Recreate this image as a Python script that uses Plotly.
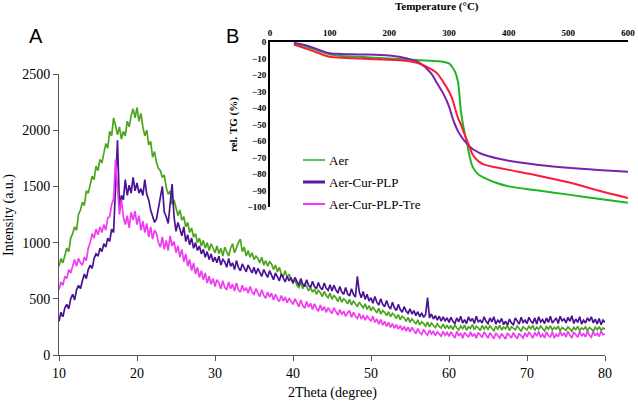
import plotly.graph_objects as go

W, H = 638, 403

# ---------------- Panel A : XRD ----------------
two_theta = [10 + 0.25 * i for i in range(281)]

aer_xrd = [
    790, 860, 820, 900, 950, 920, 1040, 1080, 1140, 1110, 1250, 1290, 1360, 1330, 1460, 1440, 1530, 1590, 1560, 1680,
    1640, 1740, 1710, 1790, 1880, 1840, 1990, 1950, 2110, 2040, 1960, 2030, 1920, 1990, 1950, 2080, 2030, 2130, 2190, 2110,
    2200, 2080, 2150, 2030, 1950, 2000, 1870, 1900, 1760, 1810, 1710, 1660, 1640, 1580, 1600, 1490, 1430, 1460, 1340, 1380,
    1300, 1240, 1290, 1200, 1230, 1140, 1180, 1090, 1130, 1050, 1080, 1000, 1040, 970, 1020, 950, 1000, 930, 990, 940,
    910, 970, 900, 950, 880, 960, 920, 880, 950, 990, 910, 960, 1000, 1030, 920, 960, 880, 930, 870, 910,
    850, 880, 860, 820, 870, 800, 840, 790, 830, 810, 760, 800, 740, 780, 720, 700, 750, 690, 720, 670,
    640, 670, 620, 600, 650, 590, 630, 610, 570, 600, 560, 585, 540, 575, 555, 520, 565, 530, 510, 550,
    495, 530, 510, 475, 520, 470, 500, 485, 455, 495, 445, 480, 460, 430, 470, 440, 420, 455, 405, 440,
    395, 425, 405, 375, 415, 365, 395, 380, 350, 385, 340, 370, 355, 325, 360, 315, 345, 330, 300, 335,
    290, 320, 300, 275, 312, 268, 295, 280, 256, 292, 250, 284, 262, 244, 278, 252, 240, 274, 236, 266,
    232, 262, 226, 268, 240, 222, 258, 234, 266, 220, 250, 236, 270, 226, 255, 242, 218, 262, 232, 256,
    228, 260, 238, 215, 256, 230, 264, 222, 248, 234, 262, 218, 252, 240, 225, 258, 230, 212, 250, 236,
    222, 256, 234, 262, 218, 248, 228, 258, 236, 214, 252, 230, 260, 222, 246, 232, 256, 216, 244, 230,
    220, 250, 232, 212, 246, 226, 254, 218, 240, 228, 250, 214, 244, 232, 210, 248, 224, 252, 218, 240,
    228,
]

aer_cur_plp_xrd = [
    300, 380, 340, 420, 450, 410, 500, 540, 490, 580, 620, 590, 660, 720, 680, 760, 800, 770, 860, 900,
    880, 950, 920, 990, 960, 1040, 1010, 1120, 1090, 1480, 1910, 1320, 1420, 1380, 1560, 1420, 1510, 1440, 1580, 1460,
    1530, 1440, 1480, 1420, 1560, 1430, 1380, 1290, 1230, 1180, 1210, 1300, 1380, 1500, 1270, 1230, 1170, 1380, 1520, 1230,
    1100, 1180, 1120, 1060, 1140, 1010, 1070, 980, 1040, 950, 1000, 930, 970, 900, 940, 870, 920, 850, 900, 830,
    870, 820, 880, 800, 850, 830, 780, 860, 790, 820, 760, 840, 780, 750, 810, 770, 740, 800, 760, 730,
    780, 720, 770, 740, 700, 760, 720, 690, 750, 700, 670, 730, 690, 660, 720, 680, 650, 700, 660, 690,
    640, 690, 650, 620, 680, 630, 610, 670, 620, 600, 655, 610, 590, 645, 600, 580, 640, 595, 575, 625,
    570, 620, 580, 550, 610, 560, 540, 600, 545, 525, 590, 540, 515, 700, 560, 510, 565, 495, 540, 480,
    510, 460, 520, 470, 445, 500, 450, 430, 485, 435, 410, 470, 420, 395, 450, 405, 380, 430, 390, 370,
    410, 365, 395, 350, 385, 340, 375, 335, 360, 510, 330, 365, 320, 350, 310, 345, 300, 340, 305, 330,
    290, 335, 300, 280, 330, 295, 345, 285, 315, 280, 340, 300, 325, 280, 345, 295, 310, 285, 340, 300,
    280, 330, 295, 340, 275, 310, 290, 325, 270, 300, 265, 320, 285, 270, 330, 295, 275, 335, 290, 310,
    280, 335, 300, 285, 330, 275, 340, 295, 315, 280, 330, 290, 345, 285, 310, 330, 280, 345, 300, 325,
    285, 335, 300, 350, 280, 320, 290, 340, 275, 310, 285, 330, 300, 340, 285, 320, 275, 325, 270, 310,
    290,
]

aer_cur_plp_tre_xrd = [
    580, 650, 620, 700, 680, 760, 730, 800, 850, 790, 860, 820, 800, 870, 840, 950, 1000, 1080, 1040, 1120,
    1070, 1140, 1090, 1160, 1110, 1220, 1230, 1340, 1390, 1740, 1440, 1250, 1380, 1230, 1160, 1240, 1130, 1270, 1200, 1280,
    1160, 1240, 1110, 1190, 1090, 1170, 1050, 1140, 1030, 1110, 1080, 1000, 960, 1050, 940, 1020, 930, 1060, 970, 1010,
    910, 970, 870, 940, 830, 900, 790, 850, 750, 820, 720, 780, 690, 750, 670, 730, 640, 700, 630, 680,
    610, 670, 640, 590, 660, 600, 580, 650, 590, 630, 570, 640, 580, 560, 620, 570, 600, 550, 610, 560,
    540, 590, 550, 520, 580, 530, 505, 560, 515, 550, 490, 540, 500, 475, 530, 480, 515, 465, 505, 470,
    450, 500, 460, 430, 490, 440, 415, 475, 425, 460, 405, 455, 415, 390, 445, 395, 430, 380, 420, 390,
    370, 420, 380, 355, 405, 360, 390, 345, 375, 395, 335, 380, 345, 325, 370, 320, 355, 310, 345, 320,
    300, 345, 290, 320, 275, 315, 265, 300, 255, 290, 245, 280, 238, 270, 230, 262, 220, 255, 212, 248,
    205, 245, 215, 190, 235, 200, 182, 228, 195, 176, 222, 188, 210, 172, 205, 185, 168, 210, 175, 200,
    165, 205, 180, 152, 210, 170, 195, 150, 200, 175, 158, 205, 165, 190, 150, 200, 172, 155, 205, 178,
    150, 198, 168, 145, 195, 172, 150, 190, 160, 142, 195, 170, 152, 200, 165, 148, 192, 170, 150, 198,
    160, 205, 175, 150, 200, 168, 210, 158, 185, 152, 205, 172, 160, 208, 150, 185, 162, 210, 170, 195,
    160, 210, 175, 152, 205, 180, 158, 212, 168, 190, 160, 215, 175, 158, 208, 170, 195, 165, 212, 180,
    185,
]

# ---------------- Panel B : TGA ----------------
temperature = [40, 60, 80, 100, 120, 150, 200, 230, 250, 270, 280, 290, 300, 305, 310, 315, 320, 325,
               330, 335, 340, 350, 360, 380, 400, 450, 500, 550, 600]
aer_tg = [-1, -3, -5, -7.5, -8.5, -9, -10, -10.5, -11, -11.3, -11.6, -12, -13, -15, -18, -24, -42, -53,
          -61, -70, -76, -80.5, -82.5, -85.5, -87.5, -90, -92.5, -95, -97.5]
aer_cur_plp_tg = [-0.5, -2, -4.5, -6.8, -7.2, -7.5, -8.2, -10, -12.5, -19, -25, -31, -39, -45, -50, -54, -57, -59.5,
                  -61.5, -63.5, -65, -67, -68.5, -70.5, -72, -74.5, -76.2, -77.5, -78.6]
aer_cur_plp_tre_tg = [-1.5, -4, -6.5, -9, -9.5, -10, -10.8, -11.5, -13, -16.5, -19, -24, -30, -34, -40, -46, -50, -55,
                      -59.5, -64, -68.5, -72.5, -74.5, -76, -77.5, -81, -85, -90, -94.5]

legend_names = ["Aer", "Aer-Cur-PLP", "Aer-Cur-PLP-Tre"]
xrd_colors = ["#4ca51f", "#4a1394", "#f03cf0"]
tga_colors = ["#1fb51f", "#7a22b0", "#ff1a3c"]
legend_colors = ["#1fb51f", "#5a1a9e", "#ff33ff"]

def px(x):
    return x / W

def py(y):
    return 1 - y / H

fig = go.Figure()

for yv, c in zip([aer_xrd, aer_cur_plp_xrd, aer_cur_plp_tre_xrd], xrd_colors):
    fig.add_trace(go.Scatter(x=two_theta, y=yv, mode="lines", line=dict(color=c, width=1.7),
                             showlegend=False, xaxis="x", yaxis="y"))

for yv, c in zip([aer_tg, aer_cur_plp_tg, aer_cur_plp_tre_tg], tga_colors):
    fig.add_trace(go.Scatter(x=temperature, y=yv, mode="lines", line=dict(color=c, width=2, shape="spline"),
                             showlegend=False, xaxis="x2", yaxis="y2"))

serif = "Liberation Serif"

fig.update_layout(
    width=W, height=H,
    margin=dict(l=0, r=0, t=0, b=0),
    paper_bgcolor="white", plot_bgcolor="rgba(0,0,0,0)",
    showlegend=False,
    xaxis=dict(domain=[px(59), px(605)], range=[10, 80], tickvals=[10, 20, 30, 40, 50, 60, 70, 80],
               showline=True, linecolor="#555", linewidth=1, ticks="outside", ticklen=5, tickcolor="#555",
               showgrid=False, zeroline=False, tickfont=dict(family=serif, size=14, color="black"),
               anchor="y", automargin=False),
    yaxis=dict(domain=[py(355), py(74)], range=[0, 2500], tickvals=[0, 500, 1000, 1500, 2000, 2500],
               showline=True, linecolor="#555", linewidth=1, ticks="outside", ticklen=5, tickcolor="#555",
               showgrid=False, zeroline=False, tickfont=dict(family=serif, size=14, color="black"),
               anchor="x", automargin=False),
    xaxis2=dict(domain=[px(270), px(628)], range=[0, 600], tickvals=[0, 100, 200, 300, 400, 500, 600],
                side="top", anchor="y2", showline=True, linecolor="black", linewidth=2, ticks="",
                showgrid=False, zeroline=False, automargin=False,
                tickfont=dict(family=serif, size=9, color="black", weight="bold")),
    yaxis2=dict(domain=[py(207), py(42)], range=[-100, 0], tickvals=list(range(-100, 1, 10)),
                anchor="x2", showline=True, linecolor="black", linewidth=2, ticks="",
                showgrid=False, zeroline=False, automargin=False,
                tickfont=dict(family=serif, size=9, color="black", weight="bold")),
)

annotations = [
    dict(text="A", x=px(36), y=py(36), font=dict(family="Liberation Sans", size=20, color="black")),
    dict(text="B", x=px(232), y=py(36), font=dict(family="Liberation Sans", size=20, color="black")),
    dict(text="Intensity (a.u.)", x=px(9), y=py(215), textangle=-90,
         font=dict(family=serif, size=14, color="black")),
    dict(text="2Theta (degree)", x=px(332), y=py(393), font=dict(family=serif, size=14, color="black")),
    dict(text="Temperature (°C)", x=px(437), y=py(6),
         font=dict(family=serif, size=11, color="black", weight="bold")),
    dict(text="rel. TG (%)", x=px(234), y=py(125), textangle=-90,
         font=dict(family=serif, size=11, color="black", weight="bold")),
]
leg_y = [160, 182, 204]
leg_w = [1.5, 3, 2]
shapes = []
for name, c, yy, lw in zip(legend_names, legend_colors, leg_y, leg_w):
    shapes.append(dict(type="line", xref="paper", yref="paper", x0=px(303), x1=px(325), y0=py(yy), y1=py(yy),
                       line=dict(color=c, width=lw)))
    annotations.append(dict(text=name, x=px(327), y=py(yy), xanchor="left",
                            font=dict(family=serif, size=13, color="black")))

for a in annotations:
    a.update(xref="paper", yref="paper", showarrow=False)
    a.setdefault("xanchor", "center")
    a.setdefault("yanchor", "middle")

fig.update_layout(annotations=annotations, shapes=shapes)

fig.write_html("out.html")
